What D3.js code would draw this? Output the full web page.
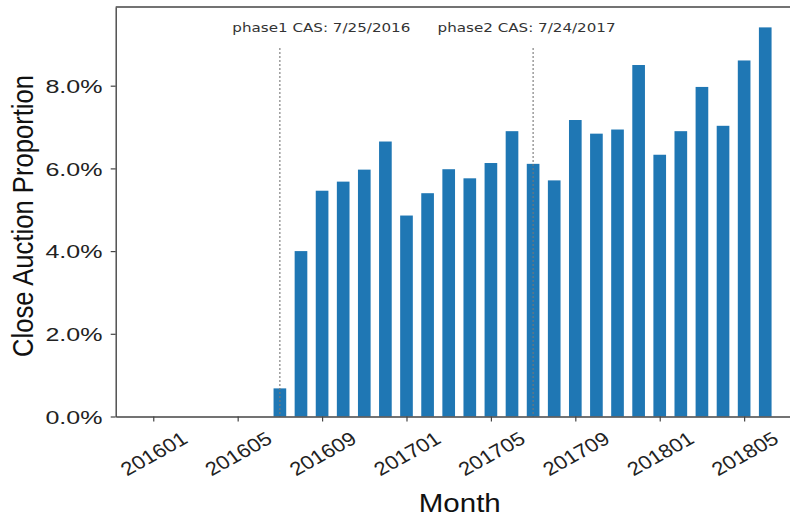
<!DOCTYPE html>
<html>
<head>
<meta charset="utf-8">
<script src="https://cdn.jsdelivr.net/npm/d3@7/dist/d3.min.js"></script>
<style>
  html, body { margin: 0; padding: 0; background: #fff; }
  svg { display: block; }
</style>
</head>
<body>
<script>
// ---- data ----
const months = [
  "201601","201602","201603","201604","201605","201606",
  "201607","201608","201609","201610","201611","201612",
  "201701","201702","201703","201704","201705","201706",
  "201707","201708","201709","201710","201711","201712",
  "201801","201802","201803","201804","201805","201806"
];
const proportions = [
  0, 0, 0, 0, 0, 0,
  0.0068, 0.0400, 0.0546, 0.0568, 0.0597, 0.0665,
  0.0486, 0.0540, 0.0598, 0.0576, 0.0613, 0.0690,
  0.0611, 0.0571, 0.0717, 0.0684, 0.0694, 0.0850,
  0.0633, 0.0690, 0.0797, 0.0703, 0.0861, 0.0941
];
const xTickLabels = ["201601","201605","201609","201701","201705","201709","201801","201805"];
const yTickValues = [0, 0.02, 0.04, 0.06, 0.08];
const events = [
  { month: "201607", label: "phase1 CAS: 7/25/2016" },
  { month: "201707", label: "phase2 CAS: 7/24/2017" }
];
const xTitle = "Month";
const yTitle = "Close Auction Proportion";

// ---- layout ----
const W = 790, H = 516;
const mLeft = 115.7, mRight = 802.8, mTop = 7, mBottom = 416.5;
const barColor = "#1f77b4";
const spineColor = "#444";

const svg = d3.select("body").append("svg")
  .attr("width", W).attr("height", H)
  .style("background", "#fff");

const idx = d => months.indexOf(d);
const x = d3.scaleLinear().domain([-1.78, 30.78]).range([mLeft, mRight]);
const y = d3.scaleLinear().domain([0, 0.09903]).range([mBottom, mTop]);
const step = x(1) - x(0);
const barW = step * 0.6;

// bars
svg.append("g").selectAll("rect")
  .data(months.map((m, i) => ({ m, v: proportions[i] })))
  .join("rect")
  .attr("x", d => x(idx(d.m)) - barW / 2)
  .attr("width", barW)
  .attr("y", d => y(d.v))
  .attr("height", d => y(0) - y(d.v))
  .attr("fill", barColor);

// event lines
const ev = svg.append("g");
ev.selectAll("line")
  .data(events)
  .join("line")
  .attr("x1", d => x(idx(d.month)))
  .attr("x2", d => x(idx(d.month)))
  .attr("y1", 48)
  .attr("y2", mBottom)
  .attr("stroke", "#777")
  .attr("stroke-width", 1.1)
  .attr("stroke-dasharray", "2,2");

// event labels (placed relative to the line)
const labelOffsets = [-47.5, -95.5];
ev.selectAll("text")
  .data(events)
  .join("text")
  .attr("x", (d, i) => x(idx(d.month)) + labelOffsets[i])
  .attr("y", 31.5)
  .attr("font-family", "DejaVu Sans, sans-serif")
  .attr("font-size", 11.5)
  .attr("fill", "#333")
  .attr("textLength", 178)
  .attr("lengthAdjust", "spacingAndGlyphs")
  .text(d => d.label);

// x axis
const xAxis = d3.axisBottom(x)
  .tickValues(xTickLabels.map(idx))
  .tickFormat(i => months[i])
  .tickSize(5)
  .tickSizeOuter(0);
const gx = svg.append("g")
  .attr("transform", `translate(0,${mBottom})`)
  .call(xAxis);
gx.select(".domain").attr("stroke", spineColor).attr("stroke-width", 1.4);
gx.selectAll(".tick line").attr("stroke", spineColor).attr("stroke-width", 1.2);
gx.selectAll(".tick text")
  .attr("y", null).attr("dy", null)
  .attr("font-family", "Liberation Sans, Arial, sans-serif")
  .attr("font-size", 19)
  .attr("fill", "#222")
  .attr("text-anchor", "middle")
  .attr("dominant-baseline", "central")
  .attr("transform", "translate(0,37) scale(1.17,1) rotate(-33)");

// y axis
const yAxis = d3.axisLeft(y)
  .tickValues(yTickValues)
  .tickFormat(d3.format(".1%"))
  .tickSize(5)
  .tickPadding(8.3)
  .tickSizeOuter(0);
const gy = svg.append("g")
  .attr("transform", `translate(${mLeft},0)`)
  .call(yAxis);
gy.select(".domain").attr("stroke", spineColor).attr("stroke-width", 1.4);
gy.selectAll(".tick line").attr("stroke", spineColor).attr("stroke-width", 1.2);
gy.selectAll(".tick text")
  .attr("dy", "0.36em")
  .attr("font-family", "Liberation Sans, Arial, sans-serif")
  .attr("font-size", 19)
  .attr("fill", "#222")
  .attr("textLength", 57)
  .attr("lengthAdjust", "spacingAndGlyphs");

// top and right spines
svg.append("line")
  .attr("x1", mLeft).attr("x2", mRight)
  .attr("y1", mTop).attr("y2", mTop)
  .attr("stroke", spineColor).attr("stroke-width", 1.4);
svg.append("line")
  .attr("x1", mRight).attr("x2", mRight)
  .attr("y1", mTop).attr("y2", mBottom)
  .attr("stroke", spineColor).attr("stroke-width", 1.4);

// axis titles
svg.append("text")
  .attr("x", (mLeft + mRight) / 2 + 0.5)
  .attr("y", 511.5)
  .attr("text-anchor", "middle")
  .attr("font-family", "Liberation Sans, Arial, sans-serif")
  .attr("font-size", 25)
  .attr("fill", "#111")
  .attr("textLength", 82)
  .attr("lengthAdjust", "spacingAndGlyphs")
  .text(xTitle);

svg.append("text")
  .attr("transform", "translate(33,216) rotate(-90)")
  .attr("text-anchor", "middle")
  .attr("font-family", "Liberation Sans, Arial, sans-serif")
  .attr("font-size", 29)
  .attr("fill", "#111")
  .attr("textLength", 282)
  .attr("lengthAdjust", "spacingAndGlyphs")
  .text(yTitle);
</script>
</body>
</html>
